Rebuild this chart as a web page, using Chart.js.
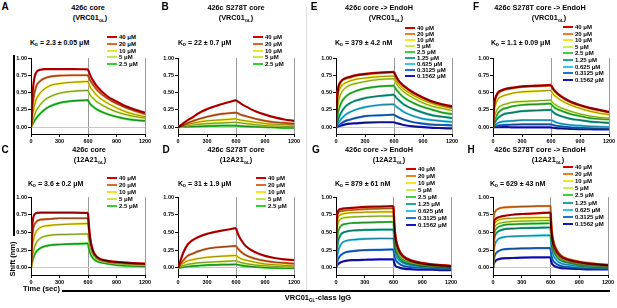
<!DOCTYPE html>
<html><head><meta charset="utf-8">
<script src="https://cdn.jsdelivr.net/npm/chart.js@4"></script>
<style>
body{margin:0;width:617px;height:308px;position:relative;background:#fff;overflow:hidden;font-family:"Liberation Sans",Arial,sans-serif;font-weight:bold;color:#000}
.t{position:absolute;white-space:nowrap;line-height:1;transform:translate(-50%,-50%)}
.l{position:absolute;white-space:nowrap;line-height:1;transform:translate(0,-50%)}
.bar{position:absolute;background:#000}
canvas{position:absolute}
sub{font-size:60%;vertical-align:-0.3em;line-height:0}
</style></head><body>
<script>
// ---- time axes (sec) ----
const timeSlow = [0, 10, 20, 50, 100, 150, 200, 300, 450, 600, 620, 650, 700, 800, 900, 1000, 1100, 1200];
const timeFast = [0, 5, 10, 20, 50, 100, 200, 300, 450, 600, 610, 620, 650, 700, 800, 900, 1000, 1100, 1200];
const xTicks = [0, 300, 600, 900, 1200];
const yTicks = [0, 0.25, 0.5, 0.75, 1.0];
const conc5 = ['40 μM', '20 μM', '10 μM', '5 μM', '2.5 μM'];
const conc9 = ['40 μM', '20 μM', '10 μM', '5 μM', '2.5 μM', '1.25 μM', '0.625 μM', '0.3125 μM', '0.1562 μM'];
const colors5 = ['#d10000', '#dd6a2a', '#f2e41e', '#c4e84e', '#2fd02f'];
const colors9 = ['#d10000', '#f0801e', '#f2e41e', '#c8f04e', '#3ed03e', '#1ea88e', '#34c6ee', '#2270dc', '#1616c0'];

// ---- Panel A: 426c core (VRC01GL) ----
const a40  = [0, .35, .55, .78, .83, .84, .84, .84, .84, .835, .76, .68, .58, .45, .37, .30, .25, .21];
const a20  = [0, .18, .35, .57, .67, .71, .73, .745, .75, .75, .68, .62, .53, .42, .34, .28, .23, .19];
const a10  = [0, .10, .20, .38, .50, .56, .60, .63, .65, .66, .59, .53, .45, .35, .28, .22, .18, .15];
const a5   = [0, .05, .10, .22, .33, .40, .44, .49, .52, .53, .47, .42, .36, .28, .22, .18, .15, .13];
const a2_5 = [0, .025, .05, .12, .20, .26, .30, .35, .38, .39, .34, .30, .25, .19, .15, .12, .10, .09];
// ---- Panel B: 426c S278T core (VRC01GL) ----
const b40  = [0, .01, .02, .05, .10, .14, .19, .26, .33, .39, .37, .34, .30, .23, .18, .14, .11, .09];
const b20  = [0, .005, .01, .03, .06, .085, .11, .15, .19, .21, .20, .18, .16, .12, .09, .07, .06, .05];
const b10  = [0, .003, .006, .02, .04, .055, .07, .09, .105, .12, .11, .10, .09, .07, .05, .04, .035, .03];
const b5   = [0, 0, .003, .01, .02, .03, .04, .05, .06, .07, .065, .06, .05, .035, .02, .015, .01, .01];
const b2_5 = [0, 0, 0, .003, .005, .008, .01, .015, .02, .02, .018, .015, .01, .005, 0, -.005, -.01, -.01];
// ---- Panel C: 426c core (12A21GL) ----
const c40  = [0, .30, .50, .68, .77, .78, .78, .78, .78, .775, .60, .45, .25, .15, .10, .085, .075, .065, .06];
const c20  = [0, .20, .35, .52, .64, .68, .69, .70, .70, .70, .55, .42, .24, .14, .10, .08, .07, .065, .06];
const c10  = [0, .12, .22, .35, .50, .57, .60, .61, .62, .625, .52, .40, .24, .15, .10, .08, .07, .06, .055];
const c5   = [0, .06, .12, .20, .34, .42, .46, .47, .475, .48, .38, .30, .19, .12, .08, .06, .05, .045, .04];
const c2_5 = [0, .03, .06, .12, .22, .28, .32, .33, .34, .345, .27, .22, .14, .09, .06, .04, .03, .025, .02];
// ---- Panel D: 426c S278T core (12A21GL) ----
const d40  = [0, .04, .08, .20, .33, .39, .43, .48, .525, .56, .48, .40, .31, .22, .17, .14, .12, .11];
const d20  = [0, .02, .04, .10, .17, .20, .23, .27, .295, .31, .27, .23, .18, .13, .10, .08, .07, .06];
const d10  = [0, .01, .02, .06, .10, .115, .13, .15, .165, .175, .155, .13, .11, .08, .055, .045, .035, .03];
const d5   = [0, .005, .01, .03, .05, .06, .07, .08, .09, .10, .09, .075, .06, .04, .03, .02, .015, .01];
const d2_5 = [0, 0, 0, .01, .02, .025, .03, .04, .045, .05, .045, .035, .025, .015, .005, 0, -.005, -.005];
// ---- Panel E: 426c core -> EndoH (VRC01GL) ----
const e40    = [0, .40, .55, .66, .71, .73, .75, .77, .79, .80, .74, .67, .60, .50, .43, .37, .33, .30];
const e20    = [0, .38, .53, .65, .70, .72, .74, .76, .78, .79, .73, .66, .59, .49, .42, .36, .32, .29];
const e10    = [0, .30, .45, .58, .64, .67, .69, .71, .73, .74, .68, .62, .55, .46, .39, .34, .30, .27];
const e5     = [0, .20, .33, .48, .57, .61, .63, .66, .69, .70, .64, .58, .51, .42, .35, .30, .27, .24];
const e2_5   = [0, .10, .20, .34, .44, .49, .52, .56, .59, .60, .55, .50, .43, .35, .29, .25, .21, .19];
const e1_25  = [0, .05, .10, .20, .30, .35, .38, .42, .45, .47, .43, .39, .33, .26, .21, .17, .15, .13];
const e0_625 = [0, .02, .05, .11, .18, .22, .25, .29, .32, .33, .30, .27, .22, .16, .12, .10, .085, .075];
const e0_3125= [0, .01, .02, .05, .09, .11, .13, .16, .17, .18, .16, .14, .11, .07, .05, .035, .03, .025];
const e0_1562= [0, 0, .01, .02, .04, .05, .055, .065, .07, .07, .06, .05, .03, .01, 0, -.01, -.015, -.02];
// ---- Panel F: 426c S278T core -> EndoH (VRC01GL) ----
const f40    = [0, .30, .40, .50, .54, .56, .57, .59, .60, .61, .56, .51, .45, .37, .32, .28, .25, .22];
const f20    = [0, .28, .38, .48, .53, .55, .56, .58, .59, .60, .55, .50, .44, .36, .31, .27, .24, .21];
const f10    = [0, .20, .29, .40, .45, .47, .49, .51, .52, .53, .48, .44, .39, .32, .27, .23, .20, .18];
const f5     = [0, .10, .17, .27, .32, .34, .36, .37, .38, .39, .35, .32, .28, .23, .19, .16, .14, .13];
const f2_5   = [0, .06, .11, .20, .26, .28, .30, .32, .33, .34, .30, .27, .24, .19, .16, .13, .12, .11];
const f1_25  = [0, .04, .07, .13, .18, .20, .21, .23, .24, .25, .22, .19, .16, .12, .10, .08, .07, .06];
const f0_625 = [0, .02, .03, .06, .08, .085, .09, .10, .10, .10, .09, .07, .05, .03, .02, .01, .005, 0];
const f0_3125= [0, .01, .015, .02, .03, .032, .035, .04, .04, .04, .03, .02, .01, -.005, -.01, -.015, -.02, -.02];
const f0_1562= [0, 0, 0, 0, 0, 0, -.005, -.005, -.005, -.005, -.01, -.015, -.02, -.025, -.03, -.03, -.035, -.035];
// ---- Panel G: 426c core -> EndoH (12A21GL) ----
const g40    = [0, .60, .72, .80, .83, .84, .85, .86, .865, .87, .60, .45, .28, .17, .10, .07, .05, .04, .03];
const g20    = [0, .55, .68, .77, .80, .81, .82, .83, .835, .84, .58, .43, .27, .16, .09, .06, .045, .035, .025];
const g10    = [0, .45, .60, .70, .75, .77, .78, .785, .79, .79, .55, .41, .25, .15, .085, .055, .04, .03, .02];
const g5     = [0, .35, .50, .62, .69, .71, .72, .725, .73, .73, .50, .37, .23, .14, .08, .05, .035, .025, .015];
const g2_5   = [0, .25, .38, .50, .59, .62, .635, .64, .645, .65, .45, .33, .20, .12, .07, .04, .03, .02, .01];
const g1_25  = [0, .15, .25, .36, .47, .51, .53, .535, .54, .54, .37, .27, .16, .09, .05, .03, .02, .01, .005];
const g0_625 = [0, .08, .14, .22, .33, .38, .40, .41, .415, .415, .28, .20, .12, .07, .035, .02, .01, .005, 0];
const g0_3125= [0, .04, .07, .12, .18, .22, .24, .25, .255, .26, .17, .12, .07, .03, .01, 0, -.005, -.01, -.01];
const g0_1562= [0, .02, .03, .05, .08, .10, .11, .115, .12, .12, .06, .03, .01, -.01, -.02, -.025, -.025, -.03, -.03];
// ---- Panel H: 426c S278T core -> EndoH (12A21GL) ----
const h40    = [0, .55, .64, .68, .71, .73, .75, .76, .77, .78, .55, .42, .27, .17, .11, .08, .06, .05, .04];
const h20    = [0, .65, .74, .79, .83, .85, .86, .865, .87, .875, .60, .46, .30, .19, .12, .09, .07, .055, .045];
const h10    = [0, .50, .58, .63, .67, .69, .70, .705, .71, .71, .50, .38, .25, .16, .10, .07, .055, .045, .035];
const h5     = [0, .42, .52, .58, .62, .64, .655, .66, .665, .67, .47, .35, .23, .14, .09, .06, .045, .035, .03];
const h2_5   = [0, .35, .45, .52, .57, .60, .615, .62, .625, .63, .44, .33, .21, .13, .08, .05, .04, .03, .02];
const h1_25  = [0, .28, .38, .45, .51, .54, .555, .56, .565, .57, .40, .30, .19, .11, .07, .04, .03, .02, .015];
const h0_625 = [0, .15, .25, .33, .40, .43, .445, .45, .455, .46, .31, .22, .13, .07, .04, .02, .01, .005, 0];
const h0_3125= [0, .07, .12, .18, .23, .26, .27, .275, .28, .28, .18, .12, .07, .03, .01, 0, -.005, -.01, -.01];
const h0_1562= [0, .03, .06, .09, .12, .135, .14, .145, .148, .15, .08, .05, .02, 0, -.01, -.015, -.02, -.02, -.02];

const FONT = '"Liberation Sans", Arial, sans-serif';

const panels = [
  {letter:'A', lx:5, ly:7, t1:'426c core', t1x:88, t2:'(VRC01<sub>GL</sub>)', t2x:90, ty:8,
   kd:'K<sub>D</sub> = 2.3 ± 0.05 μM', kx:30, ky:42, legX:107, legY:37, legDy:6.75,
   time:timeSlow, series:[a40,a20,a10,a5,a2_5], colors:colors5, conc:conc5, l:31, r:145, t:58, b:134},
  {letter:'B', lx:165, ly:7, t1:'426c S278T core', t1x:236, t2:'(VRC01<sub>GL</sub>)', t2x:236, ty:8,
   kd:'K<sub>D</sub> = 22 ± 0.7 μM', kx:178, ky:42, legX:253, legY:37, legDy:6.75,
   time:timeSlow, series:[b40,b20,b10,b5,b2_5], colors:colors5, conc:conc5, l:178, r:294, t:58, b:134},
  {letter:'E', lx:314, ly:7, t1:'426c core -&gt; EndoH', t1x:379, t2:'(VRC01<sub>GL</sub>)', t2x:386, ty:8,
   kd:'K<sub>D</sub> = 379 ± 4.2 nM', kx:335, ky:42, legX:405, legY:28, legDy:6,
   time:timeSlow, series:[e40,e20,e10,e5,e2_5,e1_25,e0_625,e0_3125,e0_1562], colors:colors9, conc:conc9, l:336, r:452, t:58, b:134},
  {letter:'F', lx:476, ly:7, t1:'426c S278T core -&gt; EndoH', t1x:540, t2:'(VRC01<sub>GL</sub>)', t2x:549, ty:8,
   kd:'K<sub>D</sub> = 1.1 ± 0.09 μM', kx:491, ky:42, legX:563, legY:27, legDy:6.6,
   time:timeSlow, series:[f40,f20,f10,f5,f2_5,f1_25,f0_625,f0_3125,f0_1562], colors:colors9, conc:conc9, l:493, r:609, t:58, b:134},
  {letter:'C', lx:5, ly:150, t1:'426c core', t1x:89, t2:'(12A21<sub>GL</sub>)', t2x:90, ty:150,
   kd:'K<sub>D</sub> = 3.6 ± 0.2 μM', kx:28, ky:183, legX:107, legY:178, legDy:7,
   time:timeFast, series:[c40,c20,c10,c5,c2_5], colors:colors5, conc:conc5, l:31, r:145, t:197, b:275},
  {letter:'D', lx:166, ly:150, t1:'426c S278T core', t1x:236, t2:'(12A21<sub>GL</sub>)', t2x:236, ty:150,
   kd:'K<sub>D</sub> = 31 ± 1.9 μM', kx:178, ky:183, legX:256, legY:178, legDy:7,
   time:timeSlow, series:[d40,d20,d10,d5,d2_5], colors:colors5, conc:conc5, l:178, r:294, t:197, b:275},
  {letter:'G', lx:316, ly:150, t1:'426c core -&gt; EndoH', t1x:379, t2:'(12A21<sub>GL</sub>)', t2x:389, ty:150,
   kd:'K<sub>D</sub> = 879 ± 61 nM', kx:335, ky:183, legX:406, legY:169, legDy:7,
   time:timeFast, series:[g40,g20,g10,g5,g2_5,g1_25,g0_625,g0_3125,g0_1562], colors:colors9, conc:conc9, l:336, r:451, t:197, b:275},
  {letter:'H', lx:471, ly:150, t1:'426c S278T core -&gt; EndoH', t1x:540, t2:'(12A21<sub>GL</sub>)', t2x:548, ty:150,
   kd:'K<sub>D</sub> = 629 ± 43 nM', kx:490, ky:183, legX:563, legY:167, legDy:7.1,
   time:timeFast, series:[h40,h20,h10,h5,h2_5,h1_25,h0_625,h0_3125,h0_1562], colors:colors9, conc:conc9, l:493, r:608, t:197, b:275}
];

function addDiv(cls, x, y, html, size, extra) {
  const d = document.createElement('div');
  d.className = cls;
  d.style.left = x + 'px'; d.style.top = y + 'px';
  d.style.fontSize = size + 'px';
  d.innerHTML = html;
  if (extra) Object.assign(d.style, extra);
  document.body.appendChild(d);
  return d;
}
function addBar(x, y, w, h, color) {
  const d = document.createElement('div');
  d.className = 'bar';
  Object.assign(d.style, {left:x+'px', top:y+'px', width:w+'px', height:h+'px', background:color||'#000'});
  document.body.appendChild(d);
}

function makeChart(p) {
  const padT = 5, padR = 8, yW = 24, xH = 14;
  const cv = document.createElement('canvas');
  const w = yW + (p.r - p.l) + padR;
  const h = padT + (p.b - p.t) + xH;
  cv.width = w; cv.height = h;
  Object.assign(cv.style, {left:(p.l - yW)+'px', top:(p.t - padT)+'px', width:w+'px', height:h+'px'});
  document.body.appendChild(cv);
  const split = p.time.indexOf(600);
  const datasets = [];
  p.series.forEach((vals, i) => {
    const pts = p.time.map((x, j) => ({x, y: vals[j]}));
    [pts.slice(0, split + 1), pts.slice(split)].forEach(seg => {
      datasets.push({data: seg, borderColor: p.colors[i], borderWidth: 2.2, pointRadius: 0,
        cubicInterpolationMode: 'monotone', fill: false, order: 2});
      datasets.push({data: seg, borderColor: 'rgba(0,0,0,0.7)', borderWidth: 0.55, pointRadius: 0,
        cubicInterpolationMode: 'monotone', fill: false, order: 0});
    });
  });
  const tickFont = {family: FONT, size: 5.5, weight: 'bold'};
  new Chart(cv, {
    type: 'line',
    data: {datasets},
    options: {
      responsive: false, animation: false, devicePixelRatio: 1,
      layout: {padding: {top: padT, right: padR, left: 0, bottom: 0}},
      plugins: {legend: {display: false}, tooltip: {enabled: false}},
      scales: {
        x: {type: 'linear', min: 0, max: 1200,
          afterBuildTicks: s => { s.ticks = xTicks.map(v => ({value: v})); },
          afterFit: s => { s.height = xH; },
          grid: {color: c => (c.tick && (c.tick.value === 600 || c.tick.value === 1200)) ? '#9a9a9a' : 'rgba(0,0,0,0)',
                 lineWidth: 1, tickLength: 3, tickColor: '#000', drawTicks: true},
          border: {display: true, color: '#000', width: 1},
          ticks: {font: tickFont, color: '#000', padding: 1, maxRotation: 0, autoSkip: false,
                  callback: v => String(v)}
        },
        y: {type: 'linear', min: -0.1, max: 1.0,
          afterBuildTicks: s => { s.ticks = yTicks.map(v => ({value: v})); },
          afterFit: s => { s.width = yW; },
          grid: {color: c => (c.tick && c.tick.value === 0) ? '#c8c8c8' : 'rgba(0,0,0,0)',
                 lineWidth: 1, tickLength: 3, tickColor: '#000'},
          border: {display: true, color: '#000', width: 1},
          ticks: {font: tickFont, color: '#000', padding: 1, callback: v => Number(v).toFixed(2)}
        }
      }
    }
  });
  // texts
  addDiv('t', p.lx, p.ly, p.letter, 10);
  addDiv('t', p.t1x, p.ty, p.t1, 7.3);
  addDiv('t', p.t2x, p.ty + 9.5, p.t2, 7.3);
  addDiv('l', p.kx, p.ky, p.kd, 7);
  p.conc.forEach((c, i) => {
    const y = p.legY + i * p.legDy;
    addBar(p.legX, y - 1, 10, 2, p.colors[i]);
    addDiv('l', p.legX + 12, y, c, 6);
  });
}

panels.forEach(makeChart);

// frame decorations
addBar(306, 7, 1, 283, '#dcdcdc');
addBar(13, 55, 1.5, 181);
addDiv('t', 13, 259, 'Shift (nm)', 7.5, {transform: 'translate(-50%,-50%) rotate(-90deg)'});
addDiv('l', 23, 289, 'Time (sec)', 7.5);
addBar(62, 290, 548, 1.5);
addDiv('t', 318, 298, 'VRC01<sub>GL</sub>-class IgG', 7.5);
</script>
</body></html>
